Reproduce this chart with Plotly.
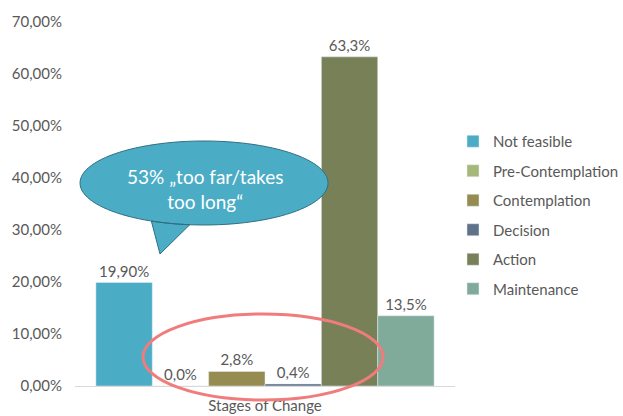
import numpy as np
import plotly.graph_objects as go

# data
category = ["Stages of Change"]
stages = ["Not feasible", "Pre-Contemplation", "Contemplation", "Decision", "Action", "Maintenance"]
values = [19.9, 0.0, 2.8, 0.4, 63.3, 13.5]
labels = ["19,90%", "0,0%", "2,8%", "0,4%", "63,3%", "13,5%"]
colors = ["#4BACC6", "#A5B87A", "#968B50", "#5F7289", "#788058", "#80AB9B"]
y_ticks = [0, 10, 20, 30, 40, 50, 60, 70]
y_ticktext = ["0,00%", "10,00%", "20,00%", "30,00%", "40,00%", "50,00%", "60,00%", "70,00%"]

GRAY = "#595959"
FONT = "Lato, 'Open Sans', sans-serif"

W, H = 623, 416
L, R, T, B = 75, 168, 22, 30
pw, ph = W - L - R, H - T - B


def px2paper(x, y):
    return (x - L) / pw, (H - B - y) / ph


fig = go.Figure()
for name, v, lab, c in zip(stages, values, labels, colors):
    fig.add_trace(go.Bar(
        x=category, y=[v], name=name, marker_color=c,
        text=[lab], textposition="outside", cliponaxis=False,
        textfont=dict(size=15, color=GRAY, family=FONT),
        legendgroup=name,
    ))

# speech bubble (ellipse with tail)
cx, cy, rx, ry = 204, 183, 124, 42
a0 = np.arctan2(222 - cy, (150 - cx) / rx * ry)
a1 = np.arctan2(224 - cy, (190 - cx) / rx * ry)
angs = np.linspace(a1, a0 + 2 * np.pi, 120)
pts = [(cx + rx * np.cos(a), cy + ry * np.sin(a)) for a in angs]
pts.append((160, 254))
path = "M " + " L ".join("%.4f,%.4f" % px2paper(x, y) for x, y in pts) + " Z"
fig.add_shape(type="path", xref="paper", yref="paper", path=path,
              fillcolor="#4BACC6", line=dict(color="#2F6F82", width=1), layer="above")

bx, by = px2paper(205, 189)
fig.add_annotation(xref="paper", yref="paper", x=bx, y=by, showarrow=False,
                   text="53% „too far/takes<br>too long“",
                   font=dict(size=19, color="white", family=FONT))

# red ellipse around small values
ex0, ey0 = px2paper(143, 314)
ex1, ey1 = px2paper(383, 400)
fig.add_shape(type="circle", xref="paper", yref="paper",
              x0=ex0, x1=ex1, y0=ey1, y1=ey0,
              line=dict(color="#F07C7C", width=3), layer="above")

lx, ly = px2paper(453, 215)
fig.update_layout(
    width=W, height=H,
    margin=dict(l=L, r=R, t=T, b=B, autoexpand=False),
    plot_bgcolor="white", paper_bgcolor="white",
    barmode="group", bargap=0.11, bargroupgap=0,
    separators=",.",
    showlegend=True,
    legend=dict(x=lx, xanchor="left", y=ly, yanchor="middle",
                font=dict(size=15, color=GRAY, family=FONT),
                tracegroupgap=7, traceorder="grouped", itemclick=False),
    font=dict(family=FONT, color=GRAY),
)
fig.update_yaxes(range=[0, 70], tickvals=y_ticks, ticktext=y_ticktext,
                 showgrid=False, zeroline=False, showline=False, automargin=False,
                 tickfont=dict(size=15, color=GRAY), ticklabelstandoff=12)
fig.update_xaxes(showline=True, linecolor="#D9D9D9", linewidth=1, automargin=False,
                 tickfont=dict(size=15, color=GRAY), ticks="", ticklabelstandoff=6)

# page has a default body margin, drop it so the figure sits at the window corner
fig.write_html("out.html", config={"displayModeBar": False},
               post_script="document.body.style.margin='0';")
